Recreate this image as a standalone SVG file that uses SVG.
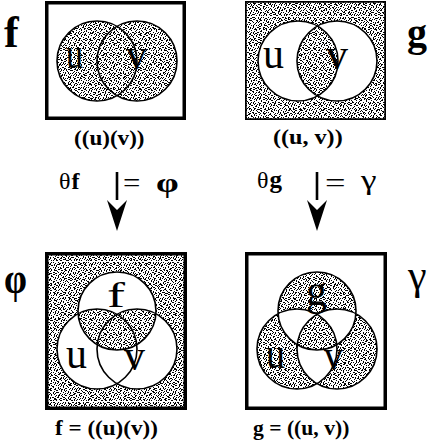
<svg xmlns="http://www.w3.org/2000/svg" width="432" height="441" viewBox="0 0 432 441">
<style>
.box{stroke:#000;stroke-width:3.5}
.ring{fill:none;stroke:#000;stroke-width:1.6}
.t{font-family:"Liberation Serif","Times New Roman",serif;fill:#000}
.cl{font-size:44px}
.cap{font-size:21px;font-weight:bold}
.big{font-size:44px;font-weight:bold}
.shaft{stroke:#000;stroke-width:2.6;fill:none}
.dot{fill:#000;shape-rendering:crispEdges}
</style>
<defs>
<pattern id="pa" patternUnits="userSpaceOnUse" x="0" y="0" width="7" height="7">
<path class="dot" d="M0 0h1v1h-1zM4 1h1v1h-1zM2 3h1v1h-1zM6 4h1v1h-1zM1 5h1v1h-1zM5 6h1v1h-1z"/>
</pattern>
<pattern id="pb" patternUnits="userSpaceOnUse" x="0" y="0" width="5" height="5">
<path class="dot" d="M1 0h1v1h-1zM3 2h1v1h-1zM0 3h1v1h-1zM4 4h1v1h-1z"/>
</pattern>
<pattern id="pc" patternUnits="userSpaceOnUse" x="0" y="0" width="11" height="11">
<path class="dot" d="M3 0h1v1h-1zM8 1h1v1h-1zM0 3h1v1h-1zM6 4h1v1h-1zM10 6h1v1h-1zM2 7h1v1h-1zM7 9h1v1h-1zM4 10h1v1h-1z"/>
</pattern>
<pattern id="st" patternUnits="userSpaceOnUse" x="0" y="0" width="385" height="385">
<rect width="385" height="385" fill="#fff"/>
<rect width="385" height="385" fill="url(#pa)"/>
<rect width="385" height="385" fill="url(#pb)"/>
<rect width="385" height="385" fill="url(#pc)"/>
</pattern>
<clipPath id="uvBL">
<circle cx="97" cy="349" r="40"/>
<circle cx="137" cy="349" r="40"/>
</clipPath>
<marker id="head" markerUnits="userSpaceOnUse" viewBox="0 -11 32 22" markerWidth="32" markerHeight="22" refX="0" refY="0" orient="auto">
<path d="M0 -10L10 0L0 10L31 0Z" fill="#000"/>
</marker>
</defs>
<rect width="432" height="441" fill="#fff"/>

<g id="node-f">
<rect class="box" x="46.75" y="2.75" width="137.5" height="115.5" fill="#fff"/>
<circle cx="97" cy="61" r="40" fill="url(#st)"/>
<circle cx="137" cy="61" r="40" fill="url(#st)"/>
<circle class="ring" cx="97" cy="61" r="40"/>
<circle class="ring" cx="137" cy="61" r="40"/>
<text class="t cl" x="66" y="68" textLength="17" lengthAdjust="spacingAndGlyphs">u</text>
<text class="t cl" x="126" y="69" textLength="21" lengthAdjust="spacingAndGlyphs">v</text>
<text class="t big" x="4" y="47">f</text>
<text class="t cap" transform="translate(74 145) scale(1.1 1)">((u)(v))</text>
</g>

<g id="node-g">
<rect class="box" x="246.75" y="2.75" width="137.5" height="115.5" fill="#fff"/>
<path fill="url(#st)" fill-rule="evenodd" d="M246.75 2.75h137.5v115.5h-137.5zM258 61a40 40 0 1 0 80 0a40 40 0 1 0 -80 0zM297 61a40 40 0 1 0 80 0a40 40 0 1 0 -80 0z"/>
<circle class="ring" cx="298" cy="61" r="40"/>
<circle class="ring" cx="337" cy="61" r="40"/>
<text class="t cl" x="263" y="68" textLength="21" lengthAdjust="spacingAndGlyphs">u</text>
<text class="t cl" x="326" y="69" textLength="22" lengthAdjust="spacingAndGlyphs">v</text>
<text class="t big" x="407" y="46" style="font-size:40px">g</text>
<text class="t cap" transform="translate(273 144) scale(1.15 1)">((u, v))</text>
</g>

<g id="node-phi">
<rect x="46.75" y="253.75" width="138.5" height="154.5" fill="url(#st)"/>
<circle cx="117" cy="311" r="39" fill="#fff"/>
<circle cx="97" cy="349" r="40" fill="#fff"/>
<circle cx="137" cy="349" r="40" fill="#fff"/>
<circle cx="117" cy="311" r="39" fill="url(#st)" clip-path="url(#uvBL)"/>
<circle class="ring" cx="117" cy="311" r="39"/>
<circle class="ring" cx="97" cy="349" r="40"/>
<circle class="ring" cx="137" cy="349" r="40"/>
<rect class="box" x="46.75" y="253.75" width="138.5" height="154.5" fill="none"/>
<text class="t" x="107" y="307" style="font-size:36px" textLength="18" lengthAdjust="spacingAndGlyphs">f</text>
<text class="t cl" x="66" y="368" textLength="21" lengthAdjust="spacingAndGlyphs">u</text>
<text class="t cl" x="124" y="370" textLength="21" lengthAdjust="spacingAndGlyphs">v</text>
<text class="t big" x="4" y="293" textLength="23" lengthAdjust="spacingAndGlyphs">φ</text>
<text class="t cap" transform="translate(55 435) scale(1.1 1)">f = ((u)(v))</text>
</g>

<g id="node-gamma">
<rect class="box" x="246.75" y="253.75" width="138.5" height="154.5" fill="#fff"/>
<path fill="url(#st)" fill-rule="evenodd" d="M278 311a39 39 0 1 0 78 0a39 39 0 1 0 -78 0zM257 349a40 40 0 1 0 80 0a40 40 0 1 0 -80 0zM297 349a40 40 0 1 0 80 0a40 40 0 1 0 -80 0z"/>
<circle class="ring" cx="317" cy="311" r="39"/>
<circle class="ring" cx="297" cy="349" r="40"/>
<circle class="ring" cx="337" cy="349" r="40"/>
<text class="t cl" x="306" y="305" textLength="21" lengthAdjust="spacingAndGlyphs">g</text>
<text class="t cl" x="266" y="368" textLength="19" lengthAdjust="spacingAndGlyphs">u</text>
<text class="t cl" x="324" y="370" textLength="19" lengthAdjust="spacingAndGlyphs">v</text>
<text class="t" x="408" y="289" style="font-size:42px">γ</text>
<text class="t cap" transform="translate(253 435) scale(1.03 1)">g = ((u, v))</text>
</g>

<g id="connectors">
<g id="arrow-theta-f">
<line class="shaft" x1="117" y1="172" x2="117" y2="200" marker-end="url(#head)"/>
<text class="t" x="59" y="189" style="font-size:24px">θ<tspan font-weight="bold" dx="1">f</tspan></text>
<text class="t" transform="translate(123 192) scale(1.1 1)" style="font-size:28px">=</text>
<text class="t" transform="translate(156 192) scale(1.3 1)" style="font-size:28px;font-weight:bold">φ</text>
</g>
<g id="arrow-theta-g">
<line class="shaft" x1="317" y1="172" x2="317" y2="200" marker-end="url(#head)"/>
<text class="t" x="257" y="188" style="font-size:24px">θ<tspan font-weight="bold" dx="1" style="font-size:25px">g</tspan></text>
<text class="t" transform="translate(325 192) scale(1.3 1)" style="font-size:28px">=</text>
<text class="t" transform="translate(361 189) scale(1.3 1)" style="font-size:27px">γ</text>
</g>
</g>
</svg>
